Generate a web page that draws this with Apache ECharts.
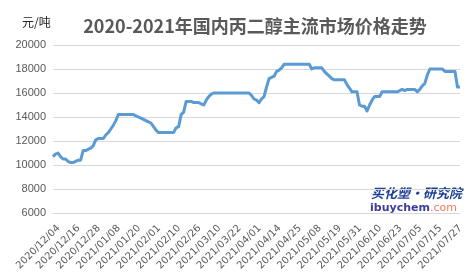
<!DOCTYPE html>
<html>
<head>
<meta charset="utf-8">
<script src="https://cdn.jsdelivr.net/npm/echarts@6/dist/echarts.min.js"></script>
<style>
html,body{margin:0;padding:0;background:#fff;}
#c{width:472px;height:278px;}
</style>
</head>
<body>
<div id="c"></div>
<script>
// ---- data ----
const titleText = '2020-2021年国内丙二醇主流市场价格走势';
const unitText = '元/吨';
// working-day calendar used for the categories
const startDate = '2020-12-04';
const endDate = '2021-07-29';
const holidays = ['2021-01-01','2021-02-11','2021-02-12','2021-02-15','2021-02-16','2021-02-17','2021-04-05','2021-05-03','2021-05-04','2021-05-05','2021-06-14'];
const makeupWorkdays = ['2021-02-07','2021-02-20','2021-04-25','2021-05-08'];
// price values, one per working day
const prices = [
 10700,10900,11000,10700,10500,10500,10300,10200,10200,10300,
 10400,10400,11200,11200,11300,11400,11600,12100,12200,12200,
 12200,12500,12700,13000,13300,13700,14200,14200,14200,14200,
 14200,14200,14200,14100,14000,13900,13800,13700,13600,13500,
 13200,12900,12700,12700,12700,12700,12700,12700,12700,13100,
 13200,14200,14400,15300,15300,15300,15200,15200,15200,15100,
 15000,15400,15700,15900,16000,16000,16000,16000,16000,16000,
 16000,16000,16000,16000,16000,16000,16000,16000,16000,15800,
 15500,15400,15200,15500,15700,16500,17200,17300,17400,17800,
 17900,18100,18400,18400,18400,18400,18400,18400,18400,18400,
 18400,18400,18400,18000,18100,18100,18100,18100,17800,17600,
 17400,17200,17100,17100,17100,17100,17100,16700,16400,16100,
 16100,16100,15000,14900,14900,14500,15000,15400,15700,15700,
 15700,16100,16100,16100,16100,16100,16100,16100,16200,16300,
 16200,16300,16300,16300,16300,16100,16300,16600,16800,17500,
 18000,18000,18000,18000,18000,18000,17800,17800,17800,17800,
 17800,16500,16500
];
const yMin = 6000, yMax = 20000, yStep = 2000;
const watermarkTop = '买化塑·研究院';
const watermarkBottomA = 'ibuychem';
const watermarkBottomB = '.com';

// ---- build categories ----
function pad(n){return (n<10?'0':'')+n;}
const categories = [];
(function(){
  const d = new Date(startDate+'T00:00:00Z');
  const end = new Date(endDate+'T00:00:00Z');
  while (d <= end) {
    const iso = d.getUTCFullYear()+'-'+pad(d.getUTCMonth()+1)+'-'+pad(d.getUTCDate());
    const wd = d.getUTCDay();
    const isWork = (makeupWorkdays.indexOf(iso) >= 0) || (wd !== 0 && wd !== 6 && holidays.indexOf(iso) < 0);
    if (isWork) categories.push(iso.replace(/-/g,'/'));
    d.setUTCDate(d.getUTCDate()+1);
  }
})();

const chart = echarts.init(document.getElementById('c'), null, {renderer:'canvas'});
chart.setOption({
  animation: false,
  backgroundColor: '#ffffff',
  title: {
    text: titleText,
    left: 250, top: 12, textAlign: 'center',
    textStyle: {fontFamily: 'Noto Sans CJK SC', fontSize: 18, fontWeight: 'bold', color: '#595959'}
  },
  graphic: [
    {type:'text', left: 22, top: 16, style:{text: unitText, font: '12px "Noto Sans CJK SC"', fill:'#222'}},
    {type:'text', right: 10, top: 187, style:{text: watermarkTop, font: 'italic bold 13px "Noto Sans CJK SC"', fill:'#1c3f94'}},
    {type:'text', left: 370, top: 203, style:{
      text: '{a|'+watermarkBottomA+'}{b|'+watermarkBottomB+'}',
      rich: {
        a: {fontSize: 11, fontWeight:'bold', fontFamily:'DejaVu Sans', fill:'#3c3c9c', color:'#3c3c9c'},
        b: {fontSize: 11, fontFamily:'DejaVu Sans', fill:'#f07b5e', color:'#f07b5e'}
      }
    }}
  ],
  grid: {left: 53, right: 12, top: 45, bottom: 65, containLabel: false},
  xAxis: {
    type: 'category',
    data: categories,
    boundaryGap: false,
    axisLine: {show: true, lineStyle: {color: '#d9d9d9'}},
    axisTick: {show: false},
    axisLabel: {interval: 7, rotate: 45, margin: 8, fontSize: 10, color: '#595959', fontFamily: 'DejaVu Sans',
      align: 'right', verticalAlign: 'top', padding: [3,0,0,0]},
    splitLine: {show: false}
  },
  yAxis: {
    type: 'value',
    min: yMin, max: yMax, interval: yStep,
    axisLine: {show: false},
    axisTick: {show: false},
    axisLabel: {fontSize: 11, color: '#595959', margin: 7, fontFamily: 'Liberation Sans', formatter: function(v){return String(v);}},
    splitLine: {lineStyle: {color: '#d9d9d9', width: 1}}
  },
  series: [{
    type: 'line',
    data: prices,
    showSymbol: false,
    symbol: 'none',
    lineStyle: {color: '#5b9bd5', width: 3, join: 'round'},
    itemStyle: {color: '#5b9bd5'}
  }]
});
</script>
</body>
</html>
